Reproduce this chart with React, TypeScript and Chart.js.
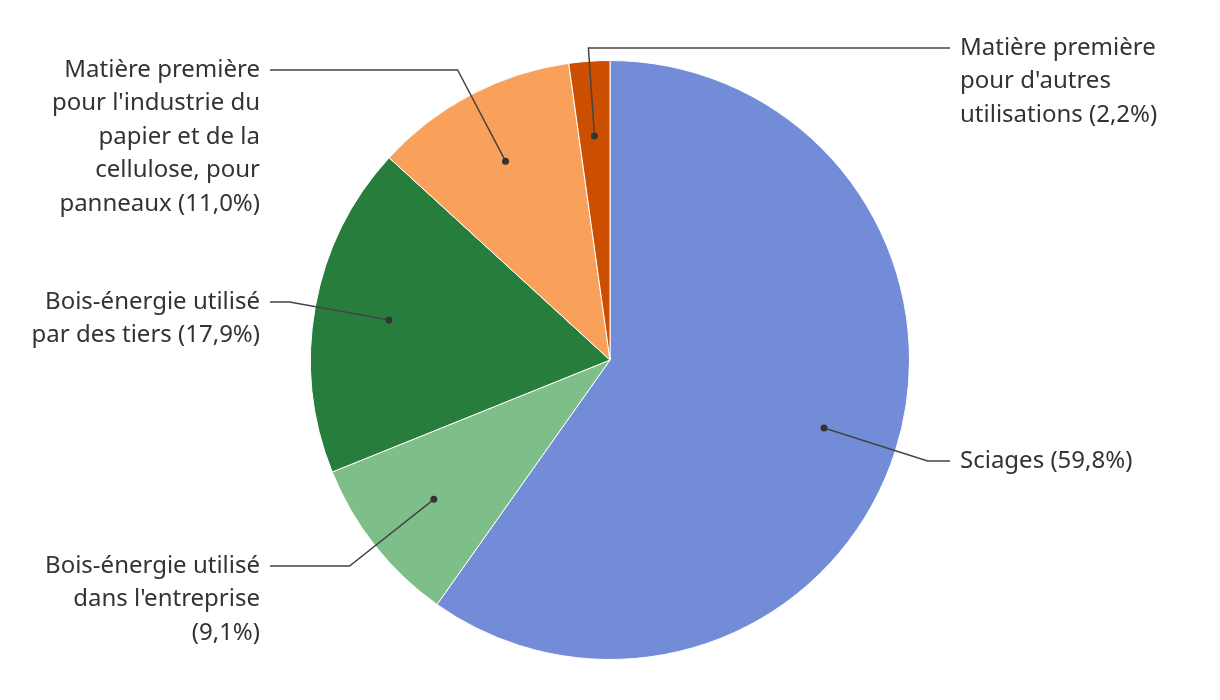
import React, { useEffect, useRef } from "react";
import { Chart, registerables } from "chart.js";

Chart.register(...registerables);

const categories: string[][] = [
  ["Sciages (59,8%)"],
  ["Bois-énergie utilisé", "dans l'entreprise", "(9,1%)"],
  ["Bois-énergie utilisé", "par des tiers (17,9%)"],
  ["Matière première", "pour l'industrie du", "papier et de la", "cellulose, pour", "panneaux (11,0%)"],
  ["Matière première", "pour d'autres", "utilisations (2,2%)"],
];
const values: number[] = [59.8, 9.1, 17.9, 11.0, 2.2];
const colors: string[] = ["#728cd8", "#7dbe89", "#267d3c", "#f9a05b", "#cc4e00"];

// label anchor layout: side and y of first text line
const labelSide: ("left" | "right")[] = ["right", "left", "left", "left", "right"];
const labelY: number[] = [461, 566, 302, 70, 48];

const FONT = '24px "Noto Sans", sans-serif';
const LINE_H = 33.5;

const leaderPlugin = {
  id: "leaders",
  afterDatasetsDraw(chart: any) {
    const ctx = chart.ctx;
    const meta = chart.getDatasetMeta(0);
    ctx.save();
    ctx.font = FONT;
    meta.data.forEach((arc: any, i: number) => {
      const { x, y, startAngle, endAngle, outerRadius } = arc.getProps(
        ["x", "y", "startAngle", "endAngle", "outerRadius"],
        true
      );
      const mid = (startAngle + endAngle) / 2;
      const r = outerRadius * 0.75;
      const dx = Math.cos(mid);
      const dy = Math.sin(mid);
      const px = x + dx * r;
      const py = y + dy * r;
      const ly = labelY[i];
      const t = (ly - py) / dy;
      const ex = px + dx * t;
      const side = labelSide[i];
      const lineEndX = side === "right" ? 950 : 270;
      const textX = side === "right" ? 960 : 260;

      ctx.strokeStyle = "#444444";
      ctx.lineWidth = 1.5;
      ctx.beginPath();
      ctx.moveTo(px, py);
      ctx.lineTo(ex, ly);
      ctx.lineTo(lineEndX, ly);
      ctx.stroke();

      ctx.fillStyle = "#333333";
      ctx.beginPath();
      ctx.arc(px, py, 3.5, 0, Math.PI * 2);
      ctx.fill();

      ctx.fillStyle = "#333333";
      ctx.textAlign = side === "right" ? "left" : "right";
      ctx.textBaseline = "middle";
      categories[i].forEach((line, k) => {
        ctx.fillText(line, textX, ly + k * LINE_H);
      });
    });
    ctx.restore();
  },
};

export default function App() {
  const ref = useRef<HTMLCanvasElement | null>(null);
  useEffect(() => {
    if (!ref.current) return;
    const chart = new Chart(ref.current, {
      type: "pie",
      data: {
        labels: categories.map((c) => c.join(" ")),
        datasets: [
          {
            data: values,
            backgroundColor: colors,
            borderColor: "#ffffff",
            borderWidth: 1,
          },
        ],
      },
      options: {
        animation: false,
        responsive: false,
        maintainAspectRatio: false,
        layout: { padding: { top: 60, bottom: 40, left: 0, right: 0 } },
        plugins: {
          legend: { display: false },
          tooltip: { enabled: false },
        },
      },
      plugins: [leaderPlugin],
    });
    return () => chart.destroy();
  }, []);
  return (
    <div style={{ position: "fixed", left: 0, top: 0, width: 1220, height: 700, background: "#fff" }}>
      <canvas ref={ref} width={1220} height={700} style={{ width: 1220, height: 700 }} />
    </div>
  );
}
